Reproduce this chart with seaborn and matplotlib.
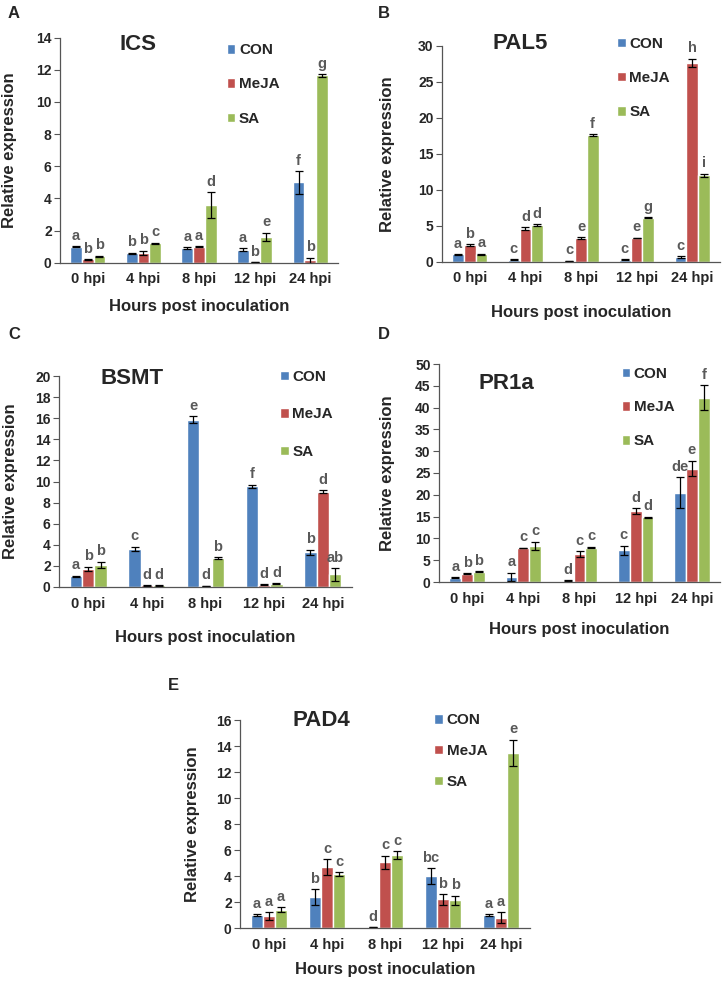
import matplotlib
matplotlib.use("Agg")
import matplotlib.pyplot as plt
import pandas as pd
import seaborn as sns

# categories
times = ["0 hpi", "4 hpi", "8 hpi", "12 hpi", "24 hpi"]
treatments = ["CON", "MeJA", "SA"]
colors = ["#4F81BD", "#C0504D", "#9BBB59"]

# ICS
ics_con = [1.0, 0.6, 0.9, 0.8, 5.0]
ics_meja = [0.2, 0.6, 1.0, 0.02, 0.15]
ics_sa = [0.4, 1.2, 3.6, 1.6, 11.65]
ics_con_err = [0.03, 0.03, 0.05, 0.1, 0.7]
ics_meja_err = [0.03, 0.15, 0.03, 0.0, 0.15]
ics_sa_err = [0.03, 0.03, 0.8, 0.25, 0.08]
ics_letters = [["a", "b", "a", "a", "f"], ["b", "b", "a", "b", "b"], ["b", "c", "d", "e", "g"]]

# PAL5
pal5_con = [1.0, 0.3, 0.1, 0.3, 0.6]
pal5_meja = [2.3, 4.6, 3.3, 3.3, 27.6]
pal5_sa = [1.0, 5.1, 17.6, 6.1, 12.0]
pal5_con_err = [0.05, 0.05, 0.02, 0.05, 0.15]
pal5_meja_err = [0.1, 0.15, 0.1, 0.05, 0.6]
pal5_sa_err = [0.1, 0.1, 0.1, 0.1, 0.25]
pal5_letters = [["a", "c", "c", "c", "c"], ["b", "d", "e", "e", "h"], ["a", "d", "f", "g", "i"]]

# BSMT
bsmt_con = [1.0, 3.6, 15.85, 9.55, 3.3]
bsmt_meja = [1.7, 0.15, 0.1, 0.2, 9.05]
bsmt_sa = [2.1, 0.15, 2.75, 0.3, 1.2]
bsmt_con_err = [0.05, 0.2, 0.35, 0.15, 0.25]
bsmt_meja_err = [0.2, 0.03, 0.03, 0.05, 0.1]
bsmt_sa_err = [0.3, 0.03, 0.05, 0.05, 0.6]
bsmt_letters = [["a", "c", "e", "f", "b"], ["b", "d", "d", "d", "d"], ["b", "d", "b", "d", "ab"]]

# PR1a
pr1a_con = [1.0, 1.2, 0.3, 7.3, 20.5]
pr1a_meja = [1.9, 7.8, 6.4, 16.2, 26.0]
pr1a_sa = [2.4, 8.3, 7.9, 14.8, 42.3]
pr1a_con_err = [0.1, 0.9, 0.1, 1.0, 3.5]
pr1a_meja_err = [0.1, 0.1, 0.7, 0.7, 1.8]
pr1a_sa_err = [0.1, 0.9, 0.2, 0.2, 2.8]
pr1a_letters = [["a", "a", "d", "c", "de"], ["b", "c", "c", "d", "e"], ["b", "c", "c", "d", "f"]]

# PAD4
pad4_con = [1.0, 2.4, 0.05, 4.0, 1.0]
pad4_meja = [0.9, 4.7, 5.05, 2.2, 0.8]
pad4_sa = [1.4, 4.15, 5.6, 2.15, 13.5]
pad4_con_err = [0.05, 0.6, 0.0, 0.6, 0.05]
pad4_meja_err = [0.3, 0.6, 0.5, 0.4, 0.4]
pad4_sa_err = [0.2, 0.15, 0.3, 0.35, 1.0]
pad4_letters = [["a", "b", "d", "bc", "a"], ["a", "c", "c", "b", "a"], ["a", "c", "c", "b", "e"]]

sns.set_style("white")
plt.rcParams["font.family"] = ["Liberation Sans", "DejaVu Sans"]
plt.rcParams["font.weight"] = "bold"

W, H = 725, 982
fig = plt.figure(figsize=(W / 100, H / 100), dpi=100)


def px_axes(left, top, right, bottom):
    return fig.add_axes([left / W, 1 - bottom / H, (right - left) / W, (bottom - top) / H])


panels = [
    # gene, panel letter, values, errors, letters, axes box (px), ymax, ystep, title pos, legend pos, legend spacing, ylabel x, xlabel y, letter pos
    ("ICS", "A", [ics_con, ics_meja, ics_sa], [ics_con_err, ics_meja_err, ics_sa_err], ics_letters,
     (60, 37.7, 338, 262.7), 14, 2, (0.28, 0.97), (0.60, 0.975), 1.32, -0.155, -0.16, (8, 13)),
    ("PAL5", "B", [pal5_con, pal5_meja, pal5_sa], [pal5_con_err, pal5_meja_err, pal5_sa_err], pal5_letters,
     (442, 45.7, 720, 261.7), 30, 5, (0.28, 1.01), (0.63, 1.04), 1.32, -0.17, -0.2, (378, 13)),
    ("BSMT", "C", [bsmt_con, bsmt_meja, bsmt_sa], [bsmt_con_err, bsmt_meja_err, bsmt_sa_err], bsmt_letters,
     (59, 376, 352, 587), 20, 2, (0.25, 0.99), (0.755, 1.028), 1.52, -0.14, -0.204, (8, 335)),
    ("PR1a", "D", [pr1a_con, pr1a_meja, pr1a_sa], [pr1a_con_err, pr1a_meja_err, pr1a_sa_err], pr1a_letters,
     (439, 364, 720, 582), 50, 5, (0.24, 0.91), (0.65, 0.988), 1.3, -0.157, -0.183, (378, 335)),
    ("PAD4", "E", [pad4_con, pad4_meja, pad4_sa], [pad4_con_err, pad4_meja_err, pad4_sa_err], pad4_letters,
     (240, 720, 530, 928), 16, 2, (0.28, 1.0), (0.67, 1.032), 1.1, -0.138, -0.163, (168, 685)),
]

for (gene, tag, vals, errs, letters, box, ymax, ystep, tpos, lpos, lspace, ylx, xly, tagpos) in panels:
    ax = px_axes(*box)
    rows = []
    for t, name in enumerate(treatments):
        for i, tm in enumerate(times):
            rows.append({"time": tm, "treatment": name, "value": vals[t][i]})
    df = pd.DataFrame(rows)
    sns.barplot(data=df, x="time", y="value", hue="treatment", order=times, hue_order=treatments,
                palette=colors, saturation=1, errorbar=None, width=0.63, ax=ax)

    bar_groups = list(ax.containers)
    for t, cont in enumerate(bar_groups):
        for i, bar in enumerate(cont.patches):
            xc = bar.get_x() + bar.get_width() / 2
            top = bar.get_height()
            ax.errorbar(xc, top, yerr=errs[t][i], fmt="none", ecolor="black",
                        elinewidth=0.9, capsize=2.6, capthick=0.9)
            ax.annotate(letters[t][i], (xc, top + errs[t][i]), xytext=(0, 2.5),
                        textcoords="offset points", ha="center", va="bottom",
                        fontsize=10.5, fontweight="bold", color="#595959")

    ax.set_ylim(0, ymax)
    ax.set_yticks(range(0, ymax + 1, ystep))
    ax.set_xlim(-0.5, len(times) - 0.5)
    for s in ["top", "right"]:
        ax.spines[s].set_visible(False)
    for s in ["left", "bottom"]:
        ax.spines[s].set_color("#555555")
        ax.spines[s].set_linewidth(0.9)
    ax.tick_params(axis="y", direction="out", length=4, width=0.8, color="#555555",
                   labelsize=10, pad=2, left=True)
    ax.tick_params(axis="x", length=0, labelsize=10.5, pad=7)
    for lab in ax.get_xticklabels() + ax.get_yticklabels():
        lab.set_fontweight("bold")

    ax.set_ylabel("Relative expression", fontsize=12, fontweight="bold")
    ax.yaxis.set_label_coords(ylx, 0.5)
    ax.set_xlabel("Hours post inoculation", fontsize=12, fontweight="bold")
    ax.xaxis.set_label_coords(0.5, xly)

    ax.text(tpos[0], tpos[1], gene, transform=ax.transAxes, ha="center", va="center",
            fontsize=16, fontweight="bold")

    handles, labels = ax.get_legend_handles_labels()
    ax.legend(handles, labels, loc="upper left", bbox_to_anchor=lpos, frameon=False,
              handlelength=0.55, handleheight=0.55, handletextpad=0.25, labelspacing=lspace,
              borderpad=0, borderaxespad=0, prop={"size": 11, "weight": "bold"})

    fig.text(tagpos[0] / W, 1 - tagpos[1] / H, tag, ha="left", va="center",
             fontsize=12, fontweight="bold")

fig.savefig("out.png", dpi=100)
